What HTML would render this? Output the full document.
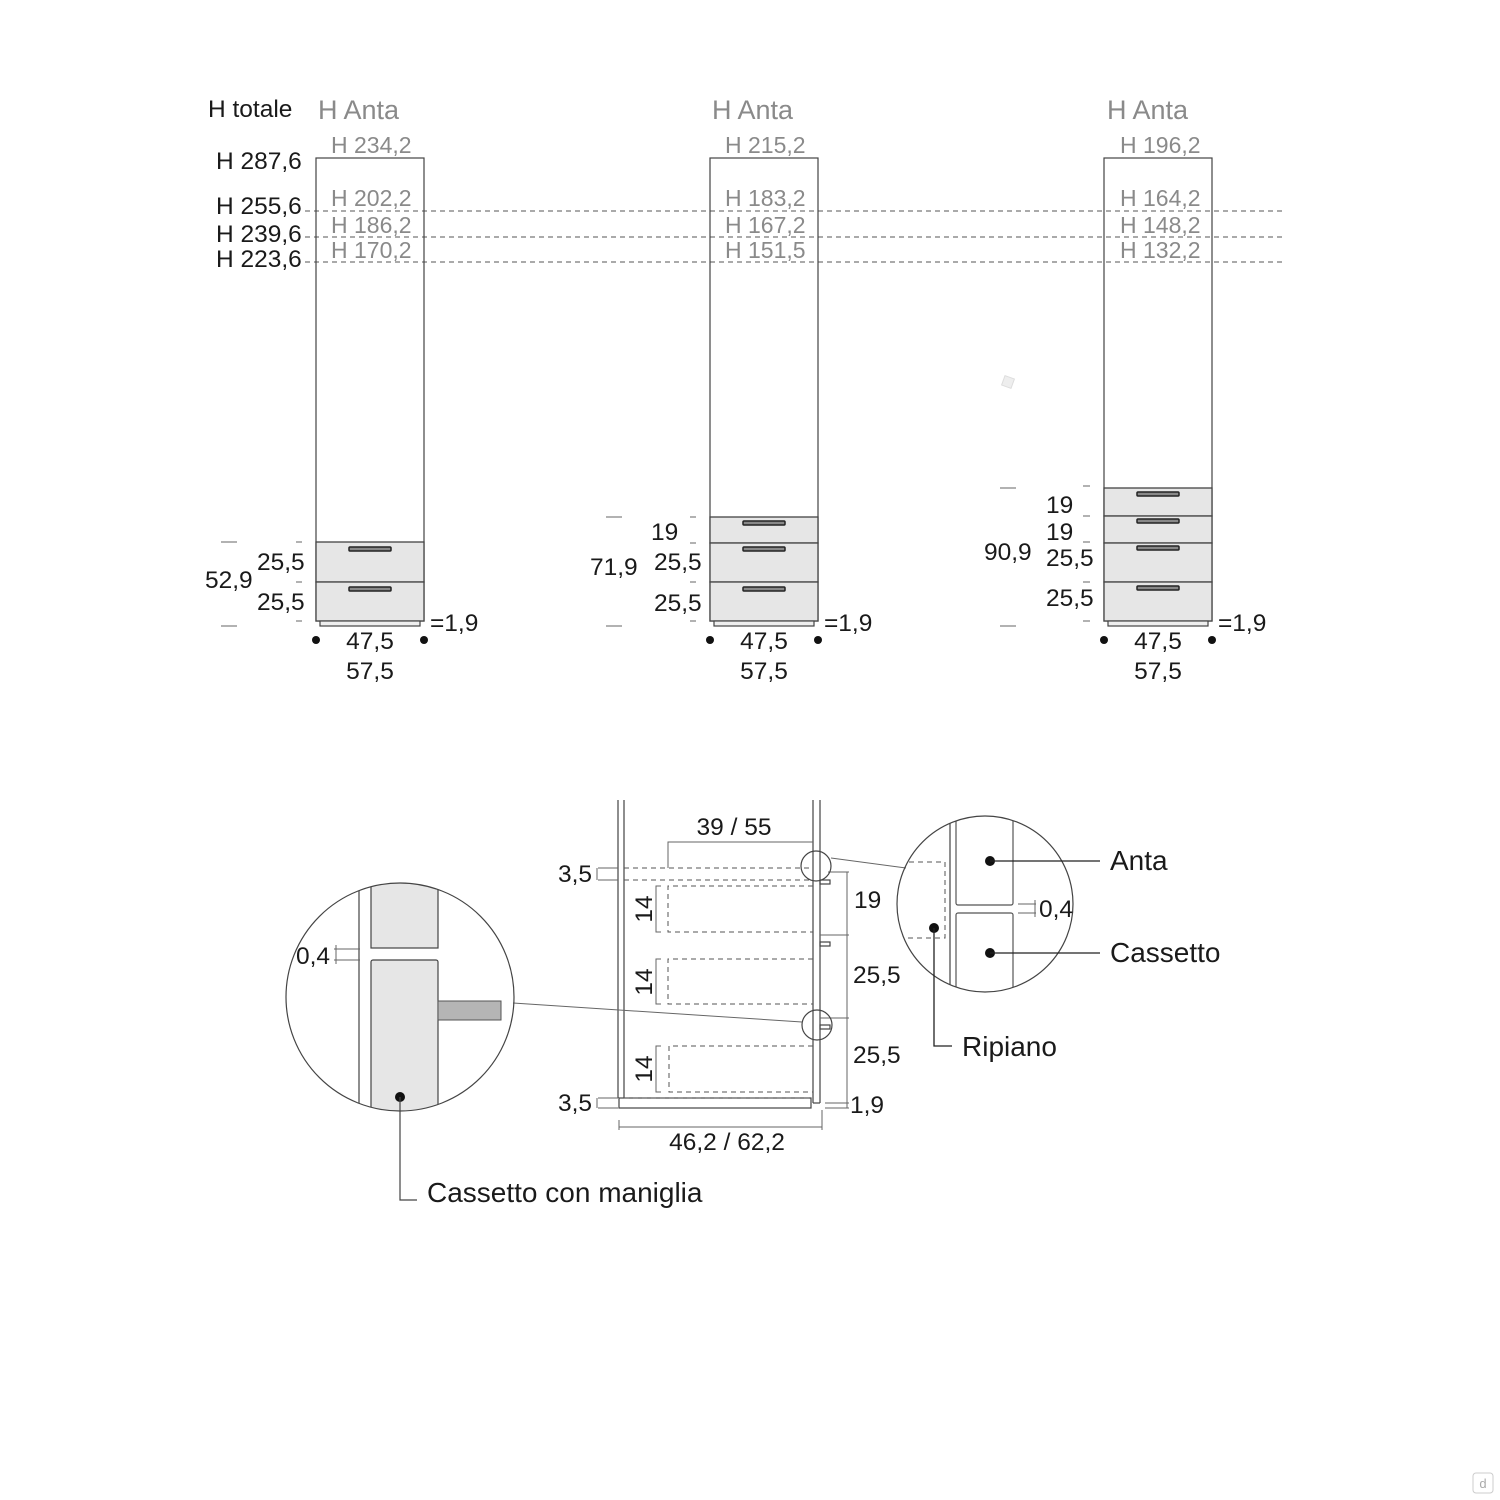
<!DOCTYPE html>
<html><head><meta charset="utf-8"><style>
html,body{margin:0;padding:0;background:#fff;}
svg{display:block;font-family:"Liberation Sans",sans-serif;}
.k{fill:#1a1a1a;font-size:24.5px;}
.g{fill:#8a8a8a;font-size:23px;}
.ga{fill:#8a8a8a;font-size:27px;}
.d{fill:#e6e6e6;stroke:#444;stroke-width:1.3;}
.h{fill:#888;stroke:#222;stroke-width:1.5;}
.ln{stroke:#444;stroke-width:1.2;fill:none;}
.dl{stroke:#555;stroke-width:1;stroke-dasharray:5 4;fill:none;}
.t{stroke:#666;stroke-width:1;}
.big{font-size:28px;}
</style></head><body>
<svg width="1500" height="1500" viewBox="0 0 1500 1500">
<line class="dl" x1="305" y1="211" x2="1283" y2="211"/>
<line class="dl" x1="305" y1="237" x2="1283" y2="237"/>
<line class="dl" x1="305" y1="262" x2="1283" y2="262"/>

<text class="k" x="208" y="117">H totale</text>
<text class="k" x="216" y="169">H 287,6</text>
<text class="k" x="216" y="214">H 255,6</text>
<text class="k" x="216" y="242">H 239,6</text>
<text class="k" x="216" y="267">H 223,6</text>

<!-- Cabinet 1 -->
<text class="ga" x="318" y="119">H Anta</text>
<text class="g" x="331" y="153">H 234,2</text>
<text class="g" x="331" y="206">H 202,2</text>
<text class="g" x="331" y="233">H 186,2</text>
<text class="g" x="331" y="258">H 170,2</text>
<rect class="ln" x="316" y="158" width="108" height="463"/>
<rect class="d" x="316" y="542" width="108" height="40"/>
<rect class="d" x="316" y="582" width="108" height="39"/>
<rect class="h" x="349" y="547" width="42" height="4" rx="1"/>
<rect class="h" x="349" y="587" width="42" height="4" rx="1"/>
<rect class="ln" x="320" y="621" width="100" height="5" style="fill:#eee"/>
<line class="t" x1="221" y1="542" x2="237" y2="542"/><line class="t" x1="221" y1="626" x2="237" y2="626"/>
<line class="t" x1="296" y1="542" x2="302" y2="542"/><line class="t" x1="296" y1="582" x2="302" y2="582"/><line class="t" x1="296" y1="621" x2="302" y2="621"/>
<text class="k" x="205" y="588">52,9</text>
<text class="k" x="257" y="570">25,5</text>
<text class="k" x="257" y="610">25,5</text>
<circle cx="316" cy="640" r="4" fill="#111"/><circle cx="424" cy="640" r="4" fill="#111"/>
<text class="k" x="370" y="649" text-anchor="middle">47,5</text>
<text class="k" x="370" y="679" text-anchor="middle">57,5</text>
<text class="k" x="430" y="631">=1,9</text>

<!-- Cabinet 2 -->
<text class="ga" x="712" y="119">H Anta</text>
<text class="g" x="725" y="153">H 215,2</text>
<text class="g" x="725" y="206">H 183,2</text>
<text class="g" x="725" y="233">H 167,2</text>
<text class="g" x="725" y="258">H 151,5</text>
<rect class="ln" x="710" y="158" width="108" height="463"/>
<rect class="d" x="710" y="517" width="108" height="26"/>
<rect class="d" x="710" y="543" width="108" height="39"/>
<rect class="d" x="710" y="582" width="108" height="39"/>
<rect class="h" x="743" y="521" width="42" height="4" rx="1"/>
<rect class="h" x="743" y="547" width="42" height="4" rx="1"/>
<rect class="h" x="743" y="587" width="42" height="4" rx="1"/>
<rect class="ln" x="714" y="621" width="100" height="5" style="fill:#eee"/>
<line class="t" x1="606" y1="517" x2="622" y2="517"/><line class="t" x1="606" y1="626" x2="622" y2="626"/>
<line class="t" x1="690" y1="517" x2="696" y2="517"/><line class="t" x1="690" y1="543" x2="696" y2="543"/><line class="t" x1="690" y1="582" x2="696" y2="582"/><line class="t" x1="690" y1="621" x2="696" y2="621"/>
<text class="k" x="590" y="575">71,9</text>
<text class="k" x="651" y="540">19</text>
<text class="k" x="654" y="570">25,5</text>
<text class="k" x="654" y="611">25,5</text>
<circle cx="710" cy="640" r="4" fill="#111"/><circle cx="818" cy="640" r="4" fill="#111"/>
<text class="k" x="764" y="649" text-anchor="middle">47,5</text>
<text class="k" x="764" y="679" text-anchor="middle">57,5</text>
<text class="k" x="824" y="631">=1,9</text>

<!-- Cabinet 3 -->
<text class="ga" x="1107" y="119">H Anta</text>
<text class="g" x="1120" y="153">H 196,2</text>
<text class="g" x="1120" y="206">H 164,2</text>
<text class="g" x="1120" y="233">H 148,2</text>
<text class="g" x="1120" y="258">H 132,2</text>
<rect class="ln" x="1104" y="158" width="108" height="463"/>
<rect class="d" x="1104" y="488" width="108" height="28"/>
<rect class="d" x="1104" y="516" width="108" height="27"/>
<rect class="d" x="1104" y="543" width="108" height="39"/>
<rect class="d" x="1104" y="582" width="108" height="39"/>
<rect class="h" x="1137" y="492" width="42" height="4" rx="1"/>
<rect class="h" x="1137" y="519" width="42" height="4" rx="1"/>
<rect class="h" x="1137" y="546" width="42" height="4" rx="1"/>
<rect class="h" x="1137" y="586" width="42" height="4" rx="1"/>
<rect class="ln" x="1108" y="621" width="100" height="5" style="fill:#eee"/>
<line class="t" x1="1000" y1="488" x2="1016" y2="488"/><line class="t" x1="1000" y1="626" x2="1016" y2="626"/>
<line class="t" x1="1083" y1="486" x2="1090" y2="486"/><line class="t" x1="1083" y1="516" x2="1090" y2="516"/><line class="t" x1="1083" y1="542" x2="1090" y2="542"/><line class="t" x1="1083" y1="582" x2="1090" y2="582"/><line class="t" x1="1083" y1="621" x2="1090" y2="621"/>
<text class="k" x="984" y="560">90,9</text>
<text class="k" x="1046" y="513">19</text>
<text class="k" x="1046" y="540">19</text>
<text class="k" x="1046" y="566">25,5</text>
<text class="k" x="1046" y="606">25,5</text>
<circle cx="1104" cy="640" r="4" fill="#111"/><circle cx="1212" cy="640" r="4" fill="#111"/>
<text class="k" x="1158" y="649" text-anchor="middle">47,5</text>
<text class="k" x="1158" y="679" text-anchor="middle">57,5</text>
<text class="k" x="1218" y="631">=1,9</text>

<rect x="1003" y="377" width="10" height="10" fill="#eee" stroke="#ddd" transform="rotate(20 1008 382)"/>

<!-- Section -->
<line class="ln" x1="618" y1="800" x2="618" y2="1098"/>
<line class="ln" x1="624" y1="800" x2="624" y2="1098"/>
<line class="ln" x1="813" y1="800" x2="813" y2="1103"/>
<line class="ln" x1="820" y1="800" x2="820" y2="1103"/>
<line class="ln" x1="813" y1="1103" x2="820" y2="1103"/>
<rect class="ln" x="619" y="1098" width="192" height="10"/>
<line class="dl" x1="624" y1="868" x2="813" y2="868"/>
<line class="dl" x1="624" y1="880" x2="813" y2="880"/>
<line class="dl" x1="624" y1="1098" x2="811" y2="1098"/>
<path class="dl" d="M813 886 H668 V932 H813"/>
<path class="dl" d="M813 959 H668 V1004 H813"/>
<path class="dl" d="M813 1046 H669 V1092 H813"/>
<path class="t" d="M661 886 H656 V932 H661 M661 959 H656 V1004 H661 M661 1046 H656 V1092 H661" fill="none"/>
<text class="k" transform="translate(652 909) rotate(-90)" text-anchor="middle">14</text>
<text class="k" transform="translate(652 982) rotate(-90)" text-anchor="middle">14</text>
<text class="k" transform="translate(652 1069) rotate(-90)" text-anchor="middle">14</text>
<path class="t" d="M668 868 V842 H813" fill="none"/>
<text class="k" x="734" y="835" text-anchor="middle">39 / 55</text>
<path class="t" d="M598 868 H618 M598 880 H618 M598 1098 H618 M598 1108 H618 M597 868 V880 M597 1098 V1108" fill="none"/>
<text class="k" x="558" y="882">3,5</text>
<text class="k" x="558" y="1111">3,5</text>
<rect class="ln" x="820" y="880" width="10" height="4"/>
<rect class="ln" x="820" y="942" width="10" height="4"/>
<rect class="ln" x="820" y="1025" width="10" height="4"/>
<path class="t" d="M828 872 H849 M847 872 V1108 M820 935 H849 M820 1018 H849 M825 1103 H849 M825 1108 H849" fill="none"/>
<text class="k" x="854" y="908">19</text>
<text class="k" x="853" y="983">25,5</text>
<text class="k" x="853" y="1063">25,5</text>
<text class="k" x="850" y="1113">1,9</text>
<path class="t" d="M619 1120 V1130 M822 1110 V1130 M619 1127 H822" fill="none"/>
<text class="k" x="727" y="1150" text-anchor="middle">46,2 / 62,2</text>
<circle class="ln" cx="816" cy="866" r="15"/>
<circle class="ln" cx="817" cy="1025" r="15"/>
<line class="t" x1="831" y1="858" x2="906" y2="868"/>
<line class="t" x1="802" y1="1022" x2="513" y2="1003"/>

<clipPath id="c1"><circle cx="400" cy="997" r="114"/></clipPath>
<g clip-path="url(#c1)">
<line class="ln" x1="359" y1="880" x2="359" y2="1115"/>
<rect x="371" y="880" width="67" height="68" fill="#e6e6e6" stroke="#444" stroke-width="1.2"/>
<rect x="371" y="960" width="67" height="160" rx="2" fill="#e6e6e6" stroke="#444" stroke-width="1.2"/>
<rect x="438" y="1001" width="63" height="19" fill="#b5b5b5" stroke="#555"/>
</g>
<circle class="ln" cx="400" cy="997" r="114"/>
<path class="t" d="M334 949 H360 M334 960 H360 M336 945 V964" fill="none"/>
<text class="k" x="296" y="964">0,4</text>
<circle cx="400" cy="1097" r="5" fill="#111"/>
<path class="ln" d="M400 1097 V1200 H417" stroke="#222"/>
<text class="k big" x="427" y="1202">Cassetto con maniglia</text>

<clipPath id="c2"><circle cx="985" cy="904" r="88"/></clipPath>
<g clip-path="url(#c2)">
<line class="ln" x1="950" y1="810" x2="950" y2="1000"/>
<rect x="956" y="805" width="57" height="100" rx="2" fill="#fff" stroke="#555" stroke-width="1.2"/>
<rect x="956" y="913" width="57" height="100" rx="2" fill="#fff" stroke="#555" stroke-width="1.2"/>
<path class="dl" d="M900 862 H945 V938 H900"/>
</g>
<circle class="ln" cx="985" cy="904" r="88"/>
<path class="t" d="M1018 904 H1036 M1018 913 H1036 M1035 900 V917" fill="none"/>
<text class="k" x="1039" y="917">0,4</text>
<circle cx="990" cy="861" r="5" fill="#111"/>
<line x1="990" y1="861" x2="1100" y2="861" stroke="#222" stroke-width="1.3"/>
<text class="k big" x="1110" y="870">Anta</text>
<circle cx="990" cy="953" r="5" fill="#111"/>
<line x1="990" y1="953" x2="1100" y2="953" stroke="#222" stroke-width="1.3"/>
<text class="k big" x="1110" y="962">Cassetto</text>
<circle cx="934" cy="928" r="5" fill="#111"/>
<path d="M934 928 V1046 H952" stroke="#222" stroke-width="1.3" fill="none"/>
<text class="k big" x="962" y="1056">Ripiano</text>

<rect x="1473" y="1473" width="20" height="20" rx="3" fill="#fff" stroke="#ccc"/>
<text x="1483" y="1488" text-anchor="middle" style="font-size:13px;fill:#aaa">d</text>
</svg>
</body></html>
